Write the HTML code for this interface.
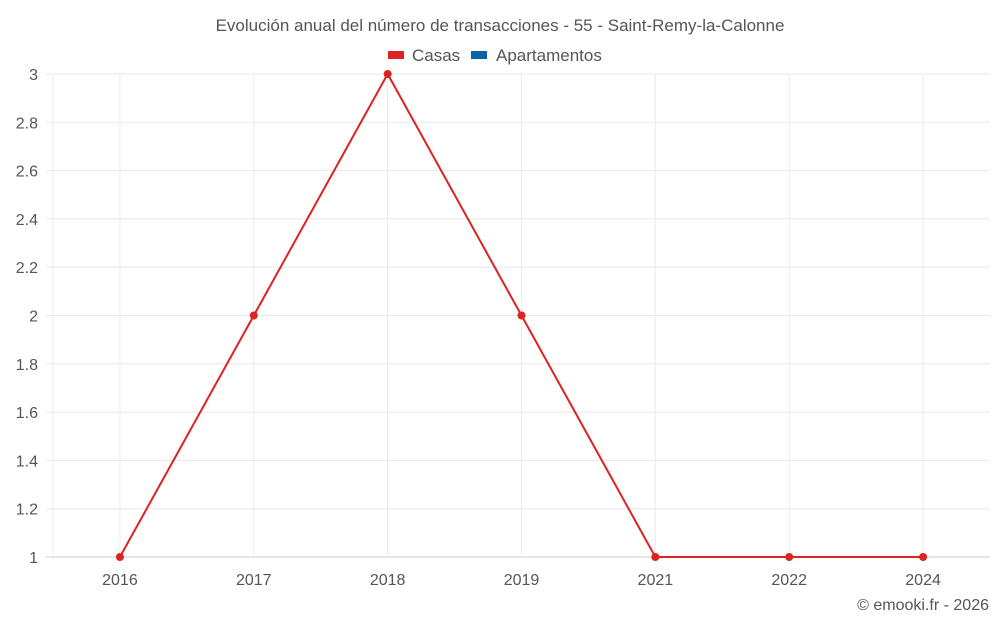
<!DOCTYPE html>
<html><head><meta charset="utf-8"><style>
body{margin:0;background:#fff;font-family:"Liberation Sans",sans-serif}
</style></head><body>
<svg id="c" width="1000" height="625" xmlns="http://www.w3.org/2000/svg">
<text x="500" y="31" text-anchor="middle" font-size="17" fill="#555">Evolución anual del número de transacciones - 55 - Saint-Remy-la-Calonne</text>
<g>
<rect x="388" y="51" width="16" height="8" fill="#dd2222"/>
<text x="412" y="61" font-size="17" fill="#555">Casas</text>
<rect x="471" y="51" width="16" height="8" fill="#0a66a6"/>
<text x="496" y="61" font-size="17" fill="#555">Apartamentos</text>
</g>
<g id="grid"></g><g id="marks"></g>
<text x="989" y="610" text-anchor="end" font-size="16" fill="#555">© emooki.fr - 2026</text>
</svg>
<script>
const categories=["2016","2017","2018","2019","2021","2022","2024"];
const casas=[1,2,3,2,1,1,1];
const yTicks=[1,1.2,1.4,1.6,1.8,2,2.2,2.4,2.6,2.8,3];
const L=53,R=990,T=74,B=557,yMin=1,yMax=3;
const bw=(R-L)/categories.length;
const xs=i=>L+bw*(i+0.5);
const ys=v=>B-(v-yMin)/(yMax-yMin)*(B-T);
const NS="http://www.w3.org/2000/svg";
const g=document.getElementById('grid'),m=document.getElementById('marks');
function mk(p,tag,a){const e=document.createElementNS(NS,tag);for(const k in a)e.setAttribute(k,a[k]);p.appendChild(e);return e;}
yTicks.forEach(v=>{const y=ys(v);
const l=mk(g,'line',{x1:46,x2:R,y1:y,y2:y,stroke:v===yMin?'#ccc':'#e8e8e8','stroke-width':1});


const t=mk(g,'text',{x:38,y:y+6,'text-anchor':'end','font-size':16,fill:'#555'});t.textContent=String(v);

});
const ax=mk(g,'line',{x1:L,x2:L,y1:T,y2:B,stroke:'#ebebeb','stroke-width':1});


categories.forEach((c,i)=>{const x=xs(i);
const l=mk(g,'line',{x1:x,x2:x,y1:T,y2:B,stroke:'#ebebeb','stroke-width':1});


const t=mk(g,'text',{x:x,y:585,'text-anchor':'middle','font-size':16,fill:'#555'});t.textContent=c;

});
const pl=mk(m,'polyline',{points:casas.map((v,i)=>xs(i)+','+ys(v)).join(' '),fill:'none',stroke:'#dd2222','stroke-width':2});


casas.forEach((v,i)=>{const c=mk(m,'circle',{cx:xs(i),cy:ys(v),r:4,fill:'#dd2222'});

});
</script>
</body></html>
